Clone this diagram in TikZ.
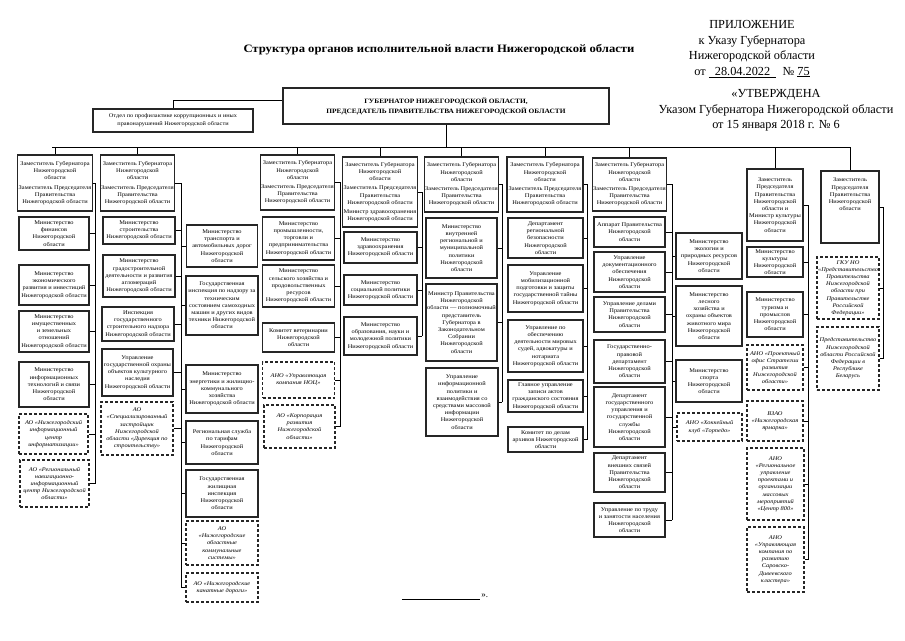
\documentclass[tikz,border=0pt]{standalone}
\usepackage{fontspec}
\setmainfont{Liberation Serif}
\newfontfamily\boxfont[FakeStretch=1.12]{Liberation Serif}
\usetikzlibrary{positioning}

\tikzset{
  org/.style={draw=black!85, line width=1.1pt, align=center, inner sep=1pt,
    font=\boxfont\fontsize{5.7}{7.2}\selectfont},
  orgdash/.style={org, dashed, dash pattern=on 3pt off 2pt, font=\boxfont\itshape\fontsize{5.7}{7.2}\selectfont},
  link/.style={draw=black, line width=0.8pt},
  head/.style={align=center, font=\fontsize{12.3}{15.5}\selectfont}
}

\begin{document}
\begin{tikzpicture}[x=1pt,y=-1pt]
\useasboundingbox (0,0) rectangle (905,640);

% title and header
\node[font=\boxfont\bfseries\fontsize{11.3}{14}\selectfont] (title) at (439,50) {Структура органов исполнительной власти Нижегородской области};
\node[head, anchor=north] (appx) at (752,17) {ПРИЛОЖЕНИЕ\\ к Указу Губернатора\\ Нижегородской области\\ от \underline{\ \ 28.04.2022\ \ }\ \ № \underline{75}};
\node[head, anchor=north] (appr) at (776,86) {«УТВЕРЖДЕНА\\ Указом Губернатора Нижегородской области\\ от 15 января 2018 г. № 6};

% governor
\node[org, line width=1.3pt, minimum width=326pt, minimum height=36pt, font=\boxfont\bfseries\fontsize{6.6}{10}\selectfont] (gov) at (446,106)
  {ГУБЕРНАТОР НИЖЕГОРОДСКОЙ ОБЛАСТИ,\\ ПРЕДСЕДАТЕЛЬ ПРАВИТЕЛЬСТВА НИЖЕГОРОДСКОЙ ОБЛАСТИ};
\node[org, minimum width=160pt, minimum height=23pt, font=\boxfont\fontsize{5.6}{8}\selectfont] (otd) at (173,120.5)
  {Отдел по профилактике коррупционных и иных\\ правонарушений Нижегородской области};
\draw[link] (otd.north) |- ([yshift=6pt]gov.west);

% deputies
\node[org, minimum width=72pt, minimum height=56pt] (z1) at (55,183) {Заместитель Губернатора\\ Нижегородской\\ области\\[2pt] Заместитель Председателя\\ Правительства\\ Нижегородской области};
\node[org, minimum width=73pt, minimum height=56pt] (z2) at (137.5,183) {Заместитель Губернатора\\ Нижегородской\\ области\\[2pt] Заместитель Председателя\\ Правительства\\ Нижегородской области};
\node[org, minimum width=73pt, minimum height=55pt] (z3) at (297.5,182.5) {Заместитель Губернатора\\ Нижегородской\\ области\\[2pt] Заместитель Председателя\\ Правительства\\ Нижегородской области};
\node[org, minimum width=72pt, minimum height=70pt] (z4) at (380,192) {Заместитель Губернатора\\ Нижегородской\\ области\\[2pt] Заместитель Председателя\\ Правительства\\ Нижегородской области\\[2pt] Министр здравоохранения\\ Нижегородской области};
\node[org, minimum width=71pt, minimum height=55pt] (z5) at (461.5,184.5) {Заместитель Губернатора\\ Нижегородской\\ области\\[2pt] Заместитель Председателя\\ Правительства\\ Нижегородской области};
\node[org, minimum width=76pt, minimum height=55pt] (z6) at (545,184.5) {Заместитель Губернатора\\ Нижегородской\\ области\\[2pt] Заместитель Председателя\\ Правительства\\ Нижегородской области};
\node[org, minimum width=73pt, minimum height=53pt] (z7) at (629.5,184.5) {Заместитель Губернатора\\ Нижегородской\\ области\\[2pt] Заместитель Председателя\\ Правительства\\ Нижегородской области};
\node[org, minimum width=56pt, minimum height=72pt] (z8) at (775,205) {Заместитель\\ Председателя\\ Правительства\\ Нижегородской\\ области и\\ Министр культуры\\ Нижегородской\\ области};
\node[org, minimum width=58pt, minimum height=72pt] (z9) at (850,207) {Заместитель\\ Председателя\\ Правительства\\ Нижегородской\\ области\\[18pt]\mbox{}};

% bus
\coordinate (busL) at (52,147);
\coordinate (busR) at (850,147);
\draw[link] (busL) -- (busR);
\draw[link] (gov.south) -- (gov.south |- busL);
\foreach \z in {z1,z2,z3,z4,z5,z6,z7,z8,z9}
  \draw[link] (\z.north) -- (\z.north |- busL);

% column 1
\node[org, minimum width=70pt, minimum height=33pt] (a1) at (54,233.5) {Министерство\\ финансов\\ Нижегородской\\ области};
\node[org, minimum width=70pt, minimum height=40pt] (a2) at (54,285) {Министерство\\ экономического\\ развития и инвестиций\\ Нижегородской области};
\node[org, minimum width=70pt, minimum height=41pt] (a3) at (54,331.5) {Министерство\\ имущественных\\ и земельных\\ отношений\\ Нижегородской области};
\node[org, minimum width=70pt, minimum height=45pt] (a4) at (54,384.5) {Министерство\\ информационных\\ технологий и связи\\ Нижегородской\\ области};
\node[orgdash, minimum width=69pt, minimum height=40pt] (a5) at (53.5,434) {АО «Нижегородский\\ информационный\\ центр\\ информатизации»};
\node[orgdash, minimum width=69pt, minimum height=47pt] (a6) at (54.5,483.5) {АО «Региональный\\ навигационно-\\ информационный\\ центр Нижегородской\\ области»};
\coordinate (s1) at (95,0);
\draw[link] (z1.east) -- (z1.east -| s1) -- (a6.east -| s1);
\foreach \b in {a1,a2,a3,a4,a5,a6}
  \draw[link] (\b.east) -- (\b.east -| s1);

% column 2 and 3
\node[org, minimum width=72pt, minimum height=27pt] (b1) at (139,230.5) {Министерство\\ строительства\\ Нижегородской области};
\node[org, minimum width=72pt, minimum height=42pt] (b2) at (139,276) {Министерство\\ градостроительной\\ деятельности и развития\\ агломераций\\ Нижегородской области};
\node[org, minimum width=72pt, minimum height=34pt] (b3) at (138,324) {Инспекция\\ государственного\\ строительного надзора\\ Нижегородской области};
\node[org, minimum width=71pt, minimum height=47pt] (b4) at (137.5,372.5) {Управление\\ государственной охраны\\ объектов культурного\\ наследия\\ Нижегородской области};
\node[orgdash, minimum width=72pt, minimum height=53pt] (b5) at (137,428.5) {АО\\ «Специализированный\\ застройщик\\ Нижегородской\\ области «Дирекция по\\ строительству»};
\node[org, minimum width=71pt, minimum height=42pt] (c1) at (222,246) {Министерство\\ транспорта и\\ автомобильных дорог\\ Нижегородской\\ области};
\node[org, minimum width=72pt, minimum height=59pt] (c2) at (222,305.5) {Государственная\\ инспекция по надзору за\\ техническим\\ состоянием самоходных\\ машин и других видов\\ техники Нижегородской\\ области};
\node[org, minimum width=72pt, minimum height=48pt] (c3) at (222,389) {Министерство\\ энергетики и жилищно-\\ коммунального\\ хозяйства\\ Нижегородской области};
\node[org, minimum width=72pt, minimum height=43pt] (c4) at (222,442.5) {Региональная служба\\ по тарифам\\ Нижегородской\\ области};
\node[org, minimum width=72pt, minimum height=47pt] (c5) at (222,493.5) {Государственная\\ жилищная\\ инспекция\\ Нижегородской\\ области};
\node[orgdash, minimum width=72pt, minimum height=44pt] (c6) at (222,543) {АО\\ «Нижегородские\\ областные\\ коммунальные\\ системы»};
\node[orgdash, minimum width=72pt, minimum height=29pt] (c7) at (222,587.5) {АО «Нижегородские\\ канатные дороги»};
\coordinate (s2) at (181,0);
\draw[link] (z2.east) -- (z2.east -| s2) -- (c7.west -| s2);
\foreach \b in {b1,b2,b3,b4,b5}
  \draw[link] (\b.east) -- (\b.east -| s2);
\foreach \b in {c1,c2,c3,c4,c5,c6,c7}
  \draw[link] (\b.west) -- (\b.west -| s2);

% column 4
\node[org, minimum width=72pt, minimum height=43pt] (d1) at (298.5,238.5) {Министерство\\ промышленности,\\ торговли и\\ предпринимательства\\ Нижегородской области};
\node[org, minimum width=72pt, minimum height=42pt] (d2) at (298.5,286) {Министерство\\ сельского хозяйства и\\ продовольственных\\ ресурсов\\ Нижегородской области};
\node[org, minimum width=72pt, minimum height=29pt] (d3) at (298.5,337.5) {Комитет ветеринарии\\ Нижегородской\\ области};
\node[orgdash, minimum width=72pt, minimum height=36pt] (d4) at (298.5,380) {АНО «Управляющая\\ компания НОЦ»};
\node[orgdash, minimum width=71pt, minimum height=43pt] (d5) at (299.5,426.5) {АО «Корпорация\\ развития\\ Нижегородской\\ области»};
\coordinate (s3) at (340,0);
\draw[link] (z3.east) -- (z3.east -| s3) -- (d5.east -| s3);
\foreach \b in {d1,d2,d3,d4,d5}
  \draw[link] (\b.east) -- (\b.east -| s3);

% column 5
\node[org, minimum width=73pt, minimum height=31pt] (e1) at (380.5,247.5) {Министерство\\ здравоохранения\\ Нижегородской области};
\node[org, minimum width=73pt, minimum height=30pt] (e2) at (380.5,290) {Министерство\\ социальной политики\\ Нижегородской области};
\node[org, minimum width=73pt, minimum height=38pt] (e3) at (380.5,336) {Министерство\\ образования, науки и\\ молодежной политики\\ Нижегородской области};
\coordinate (s4) at (422,0);
\draw[link] (z4.east) -- (z4.east -| s4) -- (e3.east -| s4);
\foreach \b in {e1,e2,e3}
  \draw[link] (\b.east) -- (\b.east -| s4);

% column 6
\node[org, minimum width=71pt, minimum height=60pt] (f1) at (461.5,248) {Министерство\\ внутренней\\ региональной и\\ муниципальной\\ политики\\ Нижегородской\\ области};
\node[org, minimum width=71pt, minimum height=77pt] (f2) at (461.5,322.5) {Министр Правительства\\ Нижегородской\\ области — полномочный\\ представитель\\ Губернатора в\\ Законодательном\\ Собрании\\ Нижегородской\\ области};
\node[org, minimum width=72pt, minimum height=68pt] (f3) at (462,402) {Управление\\ информационной\\ политики и\\ взаимодействия со\\ средствами массовой\\ информации\\ Нижегородской\\ области};
\coordinate (s5) at (502,0);
\draw[link] (z5.east) -- (z5.east -| s5) -- (f3.east -| s5);
\foreach \b in {f1,f2,f3}
  \draw[link] (\b.east) -- (\b.east -| s5);

% column 7
\node[org, minimum width=75pt, minimum height=40pt] (g1) at (545.5,238) {Департамент\\ региональной\\ безопасности\\ Нижегородской\\ области};
\node[org, minimum width=75pt, minimum height=47pt] (g2) at (545.5,288.5) {Управление\\ мобилизационной\\ подготовки и защиты\\ государственной тайны\\ Нижегородской области};
\node[org, minimum width=75pt, minimum height=52pt] (g3) at (545.5,346) {Управление по\\ обеспечению\\ деятельности мировых\\ судей, адвокатуры и\\ нотариата\\ Нижегородской области};
\node[org, minimum width=75pt, minimum height=32pt] (g4) at (545.5,396) {Главное управление\\ записи актов\\ гражданского состояния\\ Нижегородской области};
\node[org, minimum width=75pt, minimum height=25pt] (g5) at (545.5,439.5) {Комитет по делам\\ архивов Нижегородской\\ области};
\coordinate (s6) at (587,0);
\draw[link] (z6.east) -- (z6.east -| s6) -- (g5.east -| s6);
\foreach \b in {g1,g2,g3,g4,g5}
  \draw[link] (\b.east) -- (\b.east -| s6);

% column 8 and 9
\node[org, minimum width=71pt, minimum height=30pt] (h1) at (629.5,232) {Аппарат Правительства\\ Нижегородской\\ области};
\node[org, minimum width=71pt, minimum height=40pt] (h2) at (629.5,272) {Управление\\ документационного\\ обеспечения\\ Нижегородской\\ области};
\node[org, minimum width=71pt, minimum height=35pt] (h3) at (629.5,314.5) {Управление делами\\ Правительства\\ Нижегородской\\ области};
\node[org, minimum width=71pt, minimum height=43pt] (h4) at (629.5,361.5) {Государственно-\\ правовой\\ департамент\\ Нижегородской\\ области};
\node[org, minimum width=71pt, minimum height=60pt] (h5) at (629.5,417) {Департамент\\ государственного\\ управления и\\ государственной\\ службы\\ Нижегородской\\ области};
\node[org, minimum width=71pt, minimum height=39pt] (h6) at (629.5,472.5) {Департамент\\ внешних связей\\ Правительства\\ Нижегородской\\ области};
\node[org, minimum width=71pt, minimum height=34pt] (h7) at (629.5,520) {Управление по труду\\ и занятости населения\\ Нижегородской\\ области};
\node[org, minimum width=66pt, minimum height=46pt] (i1) at (709,256) {Министерство\\ экологии и\\ природных ресурсов\\ Нижегородской\\ области};
\node[org, minimum width=66pt, minimum height=60pt] (i2) at (709,316) {Министерство\\ лесного\\ хозяйства и\\ охраны объектов\\ животного мира\\ Нижегородской\\ области};
\node[org, minimum width=66pt, minimum height=42pt] (i3) at (709,381) {Министерство\\ спорта\\ Нижегородской\\ области};
\node[orgdash, minimum width=65pt, minimum height=28pt] (i4) at (709.5,427) {АНО «Хоккейный\\ клуб «Торпедо»};
\coordinate (s7) at (672,0);
\draw[link] (z7.east) -- (z7.east -| s7) -- (h7.east -| s7);
\foreach \b in {h1,h2,h3,h4,h5,h6,h7}
  \draw[link] (\b.east) -- (\b.east -| s7);
\foreach \b in {i1,i2,i3,i4}
  \draw[link] (\b.west) -- (\b.west -| s7);

% column 10
\node[org, minimum width=56pt, minimum height=30pt] (j1) at (775,262) {Министерство\\ культуры\\ Нижегородской\\ области};
\node[org, minimum width=56pt, minimum height=45pt] (j2) at (775,314.5) {Министерство\\ туризма и\\ промыслов\\ Нижегородской\\ области};
\node[orgdash, minimum width=56pt, minimum height=45pt] (j3) at (775,367.5) {АНО «Проектный\\ офис Стратегии\\ развития\\ Нижегородской\\ области»};
\node[orgdash, minimum width=56pt, minimum height=40pt] (j4) at (775,421) {ВЗАО\\ «Нижегородская\\ ярмарка»};
\node[orgdash, minimum width=57pt, minimum height=72pt] (j5) at (775.5,484) {АНО\\ «Региональное\\ управление\\ проектами и\\ организации\\ массовых\\ мероприятий\\ «Центр 800»};
\node[orgdash, minimum width=57pt, minimum height=65pt] (j6) at (775.5,559.5) {АНО\\ «Управляющая\\ компания по\\ развитию\\ Саровско-\\ Дивеевского\\ кластера»};
\coordinate (s8) at (808,0);
\draw[link] (z8.east) -- (z8.east -| s8) -- (j6.east -| s8);
\foreach \b in {j1,j2,j3,j4,j5,j6}
  \draw[link] (\b.east) -- (\b.east -| s8);

% column 11
\node[orgdash, minimum width=62pt, minimum height=62pt] (k1) at (848,288) {ГКУ НО\\ «Представительство\\ Правительства\\ Нижегородской\\ области при\\ Правительстве\\ Российской\\ Федерации»};
\node[orgdash, minimum width=62pt, minimum height=63pt] (k2) at (848,358.5) {Представительство\\ Нижегородской\\ области Российской\\ Федерации в\\ Республике\\ Беларусь};
\coordinate (s9) at (883,0);
\draw[link] (z9.east) -- (z9.east -| s9) -- (k2.east -| s9);
\foreach \b in {k1,k2}
  \draw[link] (\b.east) -- (\b.east -| s9);

% closing mark
\node[font=\fontsize{9}{10}\selectfont] (endmark) at (445,597) {\underline{\hspace{78pt}}\,».};
\end{tikzpicture}
\end{document}
